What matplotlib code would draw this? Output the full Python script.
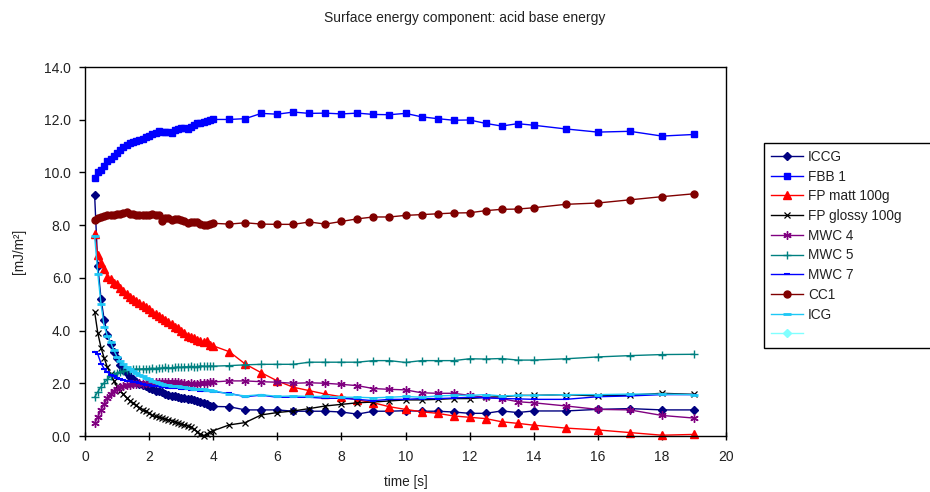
import matplotlib
matplotlib.use("Agg")
import matplotlib.pyplot as plt
from matplotlib.lines import Line2D

plt.rcParams['font.family'] = ['Liberation Sans', 'DejaVu Sans']

# measurement times [s]
time = [0.3, 0.4, 0.5, 0.6, 0.7, 0.8, 0.9, 1.0, 1.1, 1.2,
        1.3, 1.4, 1.5, 1.6, 1.7, 1.8, 1.9, 2.0, 2.1, 2.2,
        2.3, 2.4, 2.5, 2.6, 2.7, 2.8, 2.9, 3.0, 3.1, 3.2,
        3.3, 3.4, 3.5, 3.6, 3.7, 3.8, 3.9, 4.0,
        4.5, 5.0, 5.5, 6.0, 6.5, 7.0, 7.5, 8.0, 8.5, 9.0,
        9.5, 10.0, 10.5, 11.0, 11.5, 12.0, 12.5, 13.0, 13.5, 14.0,
        15.0, 16.0, 17.0, 18.0, 19.0]

iccg = [9.15, 6.45, 5.2, 4.4, 3.85, 3.5, 3.2, 2.95, 2.68, 2.5,
        2.38, 2.25, 2.15, 2.06, 1.98, 1.92, 1.88, 1.84, 1.78, 1.72,
        1.69, 1.66, 1.6, 1.56, 1.53, 1.5, 1.48, 1.46, 1.44, 1.42,
        1.39, 1.37, 1.33, 1.3, 1.25, 1.2, 1.15, 1.12,
        1.11, 0.99, 0.99, 0.99, 0.94, 0.94, 0.94, 0.91, 0.83, 0.94,
        0.94, 0.96, 0.94, 0.94, 0.91, 0.86, 0.86, 0.95, 0.89, 0.95,
        0.95, 1.01, 1.04, 0.99, 0.99]

fbb1 = [9.80, 10.0, 10.1, 10.25, 10.43, 10.5, 10.62, 10.74, 10.86, 10.96,
        11.05, 11.11, 11.16, 11.2, 11.24, 11.28, 11.33, 11.4, 11.45, 11.5,
        11.56, 11.54, 11.53, 11.53, 11.51, 11.6, 11.66, 11.68, 11.67, 11.66,
        11.73, 11.8, 11.86, 11.89, 11.93, 11.96, 11.98, 12.01,
        12.01, 12.04, 12.24, 12.21, 12.29, 12.24, 12.25, 12.22, 12.25, 12.20,
        12.19, 12.24, 12.11, 12.04, 11.98, 11.99, 11.86, 11.76, 11.85, 11.79,
        11.65, 11.53, 11.56, 11.38, 11.44]

fp_matt = [7.65, 6.85, 6.55, 6.35, 6.05, 5.95, 5.82, 5.75, 5.62, 5.52,
           5.4, 5.28, 5.2, 5.12, 5.04, 4.98, 4.9, 4.82, 4.72, 4.62,
           4.55, 4.48, 4.4, 4.32, 4.25, 4.15, 4.08, 4.0, 3.9, 3.8,
           3.75, 3.7, 3.66, 3.62, 3.55, 3.62, 3.45, 3.42,
           3.2, 2.73, 2.4, 2.09, 1.85, 1.72, 1.59, 1.49, 1.37, 1.26,
           1.11, 1.01, 0.92, 0.86, 0.76, 0.71, 0.66, 0.54, 0.48, 0.41,
           0.30, 0.23, 0.13, 0.03, 0.06]

fp_glossy = [4.72, 3.9, 3.35, 2.95, 2.6, 2.35, 2.1, 1.88, 1.72, 1.58,
             1.45, 1.34, 1.25, 1.16, 1.08, 1.0, 0.93, 0.86, 0.78, 0.74,
             0.71, 0.68, 0.65, 0.61, 0.58, 0.55, 0.5, 0.46, 0.42, 0.38,
             0.33, 0.26, 0.17, 0.06, 0.01, 0.08, 0.15, 0.2,
             0.42, 0.51, 0.8, 0.89, 0.95, 1.04, 1.14, 1.2, 1.26, 1.29,
             1.33, 1.37, 1.37, 1.39, 1.42, 1.42, 1.47, 1.49, 1.54, 1.54,
             1.57, 1.52, 1.55, 1.62, 1.58]

mwc4 = [0.48, 0.73, 1.0, 1.22, 1.45, 1.6, 1.72, 1.8, 1.86, 1.9,
        1.93, 1.95, 1.97, 1.98, 2.0, 1.99, 2.0, 2.01, 2.03, 2.05,
        2.05, 2.04, 2.06, 2.05, 2.04, 2.05, 2.03, 2.02, 2.0, 1.99,
        2.0, 1.99, 1.98, 2.0, 2.01, 2.02, 2.03, 2.05,
        2.09, 2.09, 2.06, 2.04, 2.0, 2.02, 2.0, 1.96, 1.91, 1.8,
        1.77, 1.75, 1.64, 1.62, 1.62, 1.54, 1.47, 1.42, 1.3, 1.26,
        1.14, 1.01, 0.99, 0.78, 0.68]

mwc5 = [1.47, 1.68, 1.87, 2.02, 2.15, 2.26, 2.34, 2.4, 2.44, 2.47,
        2.5, 2.52, 2.53, 2.54, 2.54, 2.55, 2.55, 2.56, 2.57, 2.56,
        2.58, 2.57, 2.6, 2.57, 2.59, 2.6, 2.62, 2.6, 2.63, 2.62,
        2.64, 2.6, 2.63, 2.66, 2.65, 2.64, 2.66, 2.65,
        2.67, 2.7, 2.72, 2.72, 2.72, 2.8, 2.8, 2.8, 2.8, 2.86,
        2.86, 2.79, 2.86, 2.86, 2.86, 2.93, 2.92, 2.94, 2.88, 2.88,
        2.93, 3.0, 3.05, 3.09, 3.1]

mwc7 = [3.2, 3.1, 2.75, 2.55, 2.42, 2.33, 2.26, 2.2, 2.15, 2.12,
        2.1, 2.08, 2.06, 2.03, 2.0, 1.97, 1.94, 1.92, 1.91, 1.89,
        1.88, 1.87, 1.85, 1.84, 1.83, 1.82, 1.81, 1.8, 1.78, 1.77,
        1.76, 1.75, 1.74, 1.72, 1.71, 1.7, 1.69, 1.68,
        1.62, 1.49, 1.55, 1.47, 1.47, 1.47, 1.43, 1.43, 1.39, 1.34,
        1.39, 1.39, 1.42, 1.42, 1.44, 1.47, 1.45, 1.42, 1.41, 1.39,
        1.39, 1.49, 1.52, 1.57, 1.57]

cc1 = [8.19, 8.26, 8.32, 8.36, 8.37, 8.38, 8.40, 8.41, 8.43, 8.46,
       8.50, 8.44, 8.41, 8.39, 8.38, 8.37, 8.39, 8.40, 8.41, 8.39,
       8.37, 8.17, 8.26, 8.28, 8.2, 8.22, 8.22, 8.19, 8.15, 8.07,
       8.11, 8.13, 8.13, 8.05, 7.99, 8.02, 8.05, 8.07,
       8.04, 8.09, 8.04, 8.03, 8.03, 8.12, 8.04, 8.14, 8.24, 8.31,
       8.31, 8.37, 8.40, 8.43, 8.46, 8.47, 8.55, 8.60, 8.61, 8.66,
       8.79, 8.84, 8.96, 9.08, 9.19]

icg = [7.6, 6.15, 5.0, 4.15, 3.8, 3.55, 3.25, 3.0, 2.85, 2.72,
       2.62, 2.53, 2.45, 2.38, 2.32, 2.26, 2.2, 2.15, 2.1, 2.05,
       2.0, 1.98, 1.95, 1.93, 1.91, 1.89, 1.88, 1.86, 1.85, 1.84,
       1.82, 1.8, 1.79, 1.78, 1.77, 1.75, 1.73, 1.72,
       1.59, 1.52, 1.57, 1.5, 1.52, 1.5, 1.5, 1.47, 1.47, 1.45,
       1.47, 1.5, 1.47, 1.52, 1.54, 1.54, 1.57, 1.52, 1.54, 1.54,
       1.57, 1.57, 1.59, 1.59, 1.57]

series_names = ["ICCG", "FBB 1", "FP matt 100g", "FP glossy 100g", "MWC 4",
                "MWC 5", "MWC 7", "CC1", "ICG"]
series_values = [iccg, fbb1, fp_matt, fp_glossy, mwc4, mwc5, mwc7, cc1, icg]

x_ticks = [0, 2, 4, 6, 8, 10, 12, 14, 16, 18, 20]
y_ticks = [0.0, 2.0, 4.0, 6.0, 8.0, 10.0, 12.0, 14.0]

styles = [
    dict(color="#000080", marker="D", ms=3.6),
    dict(color="#0000FF", marker="s", ms=5.0),
    dict(color="#FF0000", marker="^", ms=5.2),
    dict(color="#000000", marker="x", ms=5.0, mew=0.9),
    dict(color="#800080", marker=(6, 2, 0), ms=6.0, mew=1.0),
    dict(color="#008080", marker="+", ms=6.0, mew=1.0),
    dict(color="#0000FF", marker="_", ms=4.0, mew=1.5),
    dict(color="#800000", marker="o", ms=5.0),
    dict(color="#1EC8F5", marker="_", ms=6.0, mew=2.0),
]

W, H = 930, 492
fig = plt.figure(figsize=(W / 100, H / 100), dpi=100)
ax = fig.add_axes([85 / W, 1 - 436 / H, (726 - 85) / W, (436 - 67) / H])

handles = []
for name, vals, st in zip(series_names, series_values, styles):
    (ln,) = ax.plot(time, vals, linewidth=1.0, label=name,
                    color=st["color"], marker=st["marker"],
                    markersize=st["ms"], markeredgewidth=st.get("mew", 1.0),
                    markerfacecolor=st["color"], markeredgecolor=st["color"],
                    clip_on=False)
    handles.append(ln)

# empty tenth series shown only in the key
extra = Line2D([], [], color="#80FFFF", marker="D", markersize=3.6,
               linewidth=1.0)
handles.append(extra)
labels = series_names + [""]

ax.set_xlim(0, 20)
ax.set_ylim(0, 14)
ax.set_xticks(x_ticks)
ax.set_yticks(y_ticks)
ax.set_yticklabels([f"{v:.1f}" for v in y_ticks])
ax.set_xticklabels([str(v) for v in x_ticks])

for sp in ax.spines.values():
    sp.set_color("black")
    sp.set_linewidth(1.0)

ax.tick_params(axis="x", direction="inout", length=6, width=1.0, pad=7,
               labelsize=10, colors="black", labelcolor="#222222")
ax.tick_params(axis="y", direction="out", length=4, width=1.0, pad=6,
               labelsize=10, colors="black", labelcolor="#222222")

ax.set_xlabel("time [s]", fontsize=9.8, labelpad=8, color="#222222")
ax.set_ylabel("[mJ/m²]", fontsize=9.8, labelpad=13, color="#222222")

fig.text(465 / W, 1 - 18 / H, "Surface energy component: acid base energy",
         ha="center", va="center", fontsize=10, color="#222222")

leg = fig.legend(handles, labels, loc="upper left",
                 bbox_to_anchor=(764 / W, 1 - 143 / H, 180 / W, 0.0),
                 mode="expand", fontsize=9.8, frameon=True, fancybox=False,
                 edgecolor="black", framealpha=1.0, borderpad=0.5,
                 labelspacing=0.42, handlelength=2.4, handletextpad=0.35,
                 borderaxespad=0.0)
leg.get_frame().set_linewidth(1.0)
for txt in leg.get_texts():
    txt.set_color("#222222")

fig.savefig("out.png", dpi=100)
